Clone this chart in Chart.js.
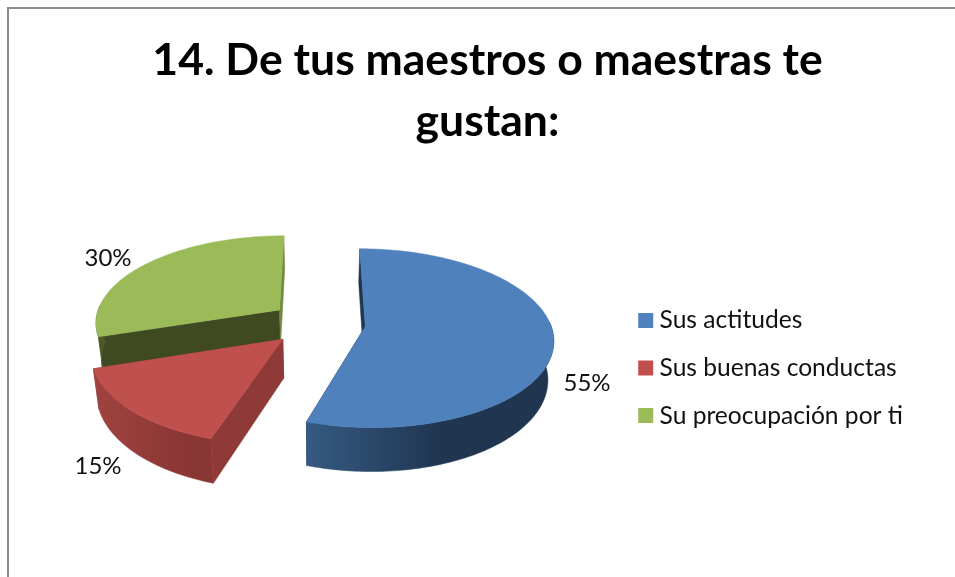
<!DOCTYPE html>
<html><head><meta charset="utf-8">
<style>html,body{margin:0;padding:0;background:#fff}#w{width:955px;height:577px;position:relative}
#f{position:absolute;left:7px;top:7px;right:-5px;bottom:-5px;border:2px solid #8c8c8c;box-sizing:border-box}
#o{position:absolute;inset:0;overflow:hidden}</style>
<script src="https://cdn.jsdelivr.net/npm/chart.js@4"></script></head>
<body><div id="w"><div id="o"><div id="f"></div><canvas id="c" width="955" height="577"></canvas></div></div>
<script>
const titleLines = ['14. De tus maestros o maestras te', 'gustan:'];
const categories = ['Sus actitudes', 'Sus buenas conductas', 'Su preocupación por ti'];
const values = [55, 15, 30];
const colors = ['#4f81bd', '#c0504d', '#9bbb59'];
const labelPositions = [[587, 383], [98, 466], [108, 258]];

const TILT = 0.47, PERSP = 0.13, DEPTH = 38, RADIUS = 185, EXPLODE = 48, FLOOR_SHRINK = 0.025;
const wallStops = [
  [['0', '#365a82'], ['0.55', '#1f3550'], ['1', '#1f3550']],
  [['0', '#a04340'], ['0.8', '#8a3634'], ['1', '#8a3634']],
  [['0', '#5f7434'], ['1', '#4a5a28']]
];
const faceColors = [['#1f3550', '#1f3550'], ['#8f3a38', '#8f3a38'], ['#3f4a22', '#72893f']];

const pie3d = {
  id: 'pie3d',
  afterLayout(chart) {
    const t = chart.titleBlock, l = chart.legend;
    t.left += 24; t.right += 24;
    l.left -= 14; l.right -= 14;
    l.top += 121; l.bottom += 121;
  },
  beforeDatasetDraw(chart) {
    const c = chart.ctx, els = chart.getDatasetMeta(0).data;
    const P = (el, a, r, h) => {
      const mid = (el.startAngle + el.endAngle) / 2;
      const X = EXPLODE * Math.cos(mid) + r * Math.cos(a);
      const Y = EXPLODE * Math.sin(mid) + r * Math.sin(a);
      const s = 1 / (1 - PERSP * Y / RADIUS);
      return [el.x + X * s * (1 - FLOOR_SHRINK * h / DEPTH), el.y + Y * TILT * s + h * s];
    };
    const poly = (pts, fill) => {
      c.beginPath(); pts.forEach((p, i) => i ? c.lineTo(p[0], p[1]) : c.moveTo(p[0], p[1]));
      c.closePath(); c.fillStyle = fill; c.fill();
      c.strokeStyle = fill; c.lineWidth = 0.5; c.stroke();
    };
    const arcPts = (el, a0, a1, r, h) => {
      const n = Math.max(2, Math.ceil((a1 - a0) / 0.02)), out = [];
      for (let i = 0; i <= n; i++) out.push(P(el, a0 + (a1 - a0) * i / n, r, h));
      return out;
    };
    [2, 1, 0].forEach(i => {
      const el = els[i], R = el.outerRadius;
      const a0 = el.startAngle, a1 = el.endAngle;
      [a0, a1].forEach((a, k) => {
        poly([P(el, a, 0, 0), P(el, a, R, 0), P(el, a, R, DEPTH), P(el, a, 0, DEPTH)], faceColors[i][k]);
      });
      const f0 = Math.max(a0, -0.05), f1 = Math.min(a1, Math.PI + 0.05);
      if (f1 > f0) {
        const top = arcPts(el, f0, f1, R, 0), bot = arcPts(el, f0, f1, R, DEPTH);
        const xs = top.map(p => p[0]);
        const g = c.createLinearGradient(Math.min(...xs), 0, Math.max(...xs), 0);
        wallStops[i].forEach(s => g.addColorStop(+s[0], s[1]));
        poly(top.concat(bot.reverse()), g);
      }
      poly([P(el, a0, 0, 0)].concat(arcPts(el, a0, a1, R, 0)), colors[i]);
    });
    return false;
  },
  afterDatasetsDraw(chart) {
    const c = chart.ctx;
    c.save();
    c.font = '24px Lato';
    c.fillStyle = '#111';
    c.textAlign = 'center'; c.textBaseline = 'middle';
    values.forEach((v, i) => c.fillText(v + '%', labelPositions[i][0], labelPositions[i][1]));
    c.restore();
  }
};

new Chart(document.getElementById('c'), {
  type: 'pie',
  data: { labels: categories, datasets: [{ data: values, backgroundColor: colors, borderWidth: 0 }] },
  options: {
    responsive: false, animation: false, radius: RADIUS,
    layout: { padding: { left: 0, top: 0, right: 28, bottom: 83 } },
    plugins: {
      tooltip: { enabled: false },
      title: { display: true, text: titleLines, font: { family: 'Lato', size: 44.5, weight: 'bold', lineHeight: 1.37 }, color: '#000', padding: { top: 30, bottom: 0 } },
      legend: { position: 'right', labels: { usePointStyle: true, pointStyle: 'rect', boxWidth: 3, boxHeight: 15, padding: 23, color: '#111', font: { family: 'Lato', size: 24.6 } } }
    }
  },
  plugins: [pie3d]
});
</script></body></html>
